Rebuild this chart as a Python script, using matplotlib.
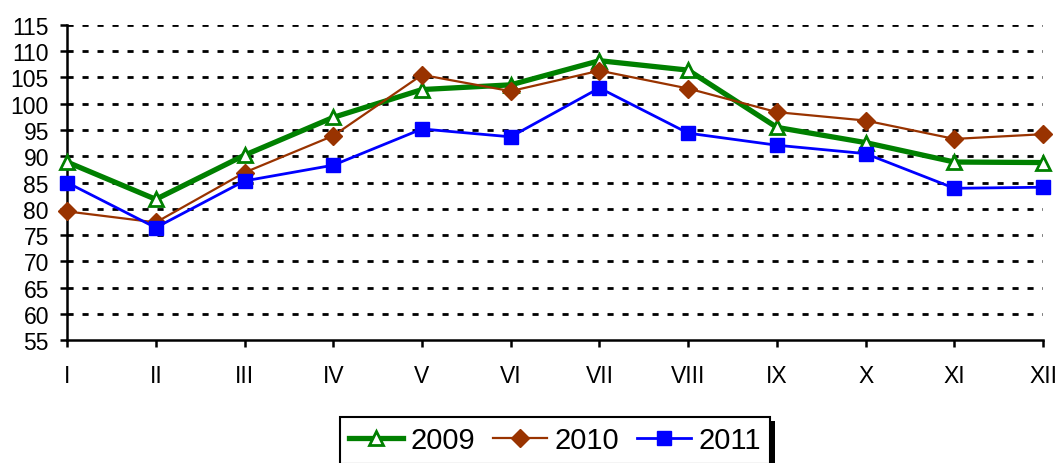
import numpy as np
import matplotlib
matplotlib.use('Agg')
import matplotlib.pyplot as plt
from matplotlib.patches import Rectangle

plt.rcParams['font.family'] = ['Liberation Sans', 'DejaVu Sans']

# month labels and index values
months = ['I', 'II', 'III', 'IV', 'V', 'VI', 'VII', 'VIII', 'IX', 'X', 'XI', 'XII']
y2009 = [88.9, 81.8, 90.2, 97.4, 102.7, 103.6, 108.2, 106.4, 95.5, 92.6, 88.9, 88.8]
y2010 = [79.5, 77.4, 86.9, 93.9, 105.5, 102.4, 106.3, 102.9, 98.4, 96.8, 93.3, 94.2]
y2011 = [85.0, 76.4, 85.3, 88.3, 95.2, 93.7, 103.0, 94.4, 92.1, 90.5, 83.9, 84.1]
yticks = list(range(55, 116, 5))

x = np.arange(len(months))

fig = plt.figure(figsize=(10.59, 4.64), dpi=100)
ax = fig.add_axes([0.0633, 0.265, 0.9217, 0.679])

# dashed horizontal grid
for v in yticks[1:]:
    ax.axhline(v, color='black', lw=2.0, linestyle=(0, (2.2, 3.2)), zorder=1)

ax.plot(x, y2009, color='#008000', lw=3.8, marker='^', ms=10, mfc='white',
        mec='#008000', mew=2, label='2009', clip_on=False, zorder=3)
ax.plot(x, y2010, color='#993300', lw=1.6, marker='D', ms=9, mfc='#993300',
        mec='#993300', label='2010', clip_on=False, zorder=4)
ax.plot(x, y2011, color='#0000FF', lw=2, marker='s', ms=10, mfc='#0000FF',
        mec='#0000FF', label='2011', clip_on=False, zorder=5)

ax.set_xlim(0, 11)
ax.set_ylim(55, 115)
ax.set_xticks(x)
ax.set_xticklabels(months, fontsize=16.5)
ax.set_yticks(yticks)
ax.set_yticklabels([str(v) for v in yticks], fontsize=16.5)

for s in ['top', 'right']:
    ax.spines[s].set_visible(False)
for s in ['left', 'bottom']:
    ax.spines[s].set_linewidth(1.8)
    ax.spines[s].set_color('black')

ax.tick_params(axis='both', width=1.8, length=5, direction='out')
ax.tick_params(axis='y', pad=8)
ax.tick_params(axis='x', pad=12)

leg = fig.legend(loc='upper center', bbox_to_anchor=(0.524, 0.099), ncol=3,
                 fontsize=21, frameon=True, fancybox=False, shadow=False,
                 framealpha=1, handlelength=1.85, handletextpad=0.25,
                 columnspacing=0.62, borderpad=0.32, borderaxespad=0)
leg.get_frame().set_edgecolor('black')
leg.get_frame().set_facecolor('white')
leg.get_frame().set_linewidth(1.5)

# black drop shadow behind the legend box, offset a few pixels
fig.canvas.draw()
bb = leg.get_window_extent()
shadow = Rectangle((bb.x0 + 5, bb.y0 - 4), bb.width, bb.height,
                   transform=None, facecolor='black', edgecolor='none', zorder=0)
fig.patches.append(shadow)
leg.set_zorder(2)

fig.savefig('out.png', dpi=100)
